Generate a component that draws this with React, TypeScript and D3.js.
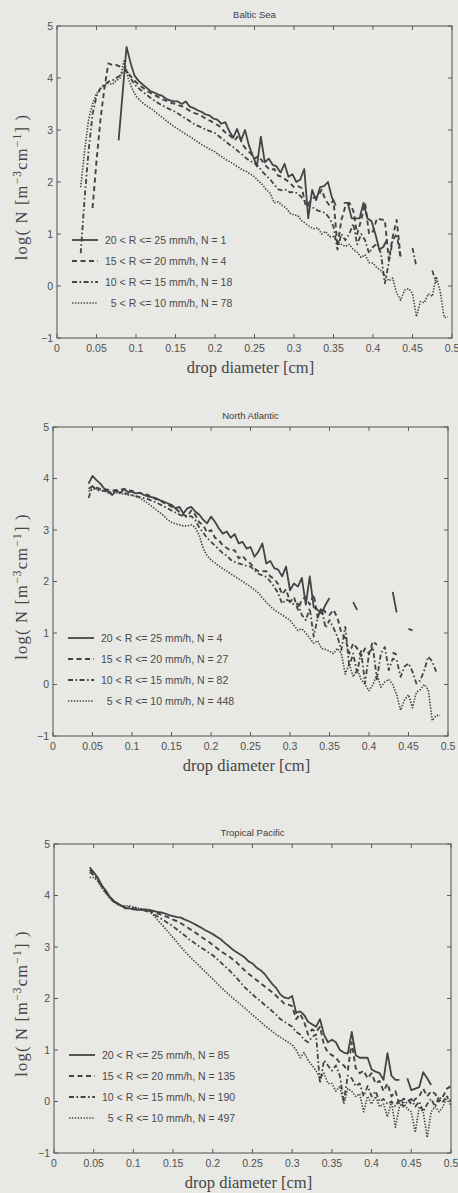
import React from 'react';
import * as d3 from 'd3';

// ---------- data ----------
const STEP = 0.005;

const xTicks = [0, 0.05, 0.1, 0.15, 0.2, 0.25, 0.3, 0.35, 0.4, 0.45, 0.5];
const xTickLabels = ['0', '0.05', '0.1', '0.15', '0.2', '0.25', '0.3', '0.35', '0.4', '0.45', '0.5'];
const yTicks = [-1, 0, 1, 2, 3, 4, 5];
const yTickLabels = ['\u22121', '0', '1', '2', '3', '4', '5'];

const rateClasses = ['20 < R <= 25 mm/h', '15 < R <= 20 mm/h', '10 < R <= 15 mm/h', '  5 < R <= 10 mm/h'];
const panelTitles = ['Baltic Sea', 'North Atlantic', 'Tropical Pacific'];
const balticCounts = [1, 4, 18, 78];
const atlanticCounts = [4, 27, 82, 448];
const pacificCounts = [85, 135, 190, 497];

// Baltic Sea
const balticR20Start = 0.078;
const balticR20 = [2.8, 3.7, 4.6, 4.3, 4.05, 3.95, 3.88, 3.82, 3.75, 3.72, 3.68, 3.66, 3.6, 3.57, 3.55, 3.55, 3.5, 3.55, 3.45, 3.42, 3.38, 3.35, 3.3, 3.28, 3.22, 3.2, 3.12, 3.15, 2.98, 2.85, 3.02, 2.8, 3.0, 2.7, 2.5, 2.3, 2.87, 2.38, 2.45, 2.33, 2.3, 2.18, 2.35, 2.1, 2.15, 2.0, 2.05, 2.25, 1.3, 1.85, 1.65, 1.9, 1.92, 2.0, 1.7, 1.55, null, 1.6, 1.6, 1.3, 1.3, 1.3, 1.6, 1.3, 1.25, 1.0, 0.7, 0.75, 0.9];
const balticR15Start = 0.045;
const balticR15 = [1.5, 2.4, 3.2, 3.8, 4.28, 4.25, 4.25, 4.22, 4.2, 4.1, 4.0, 3.92, 3.85, 3.8, 3.74, 3.7, 3.66, 3.62, 3.58, 3.55, 3.52, 3.5, 3.47, 3.45, 3.4, 3.35, 3.32, 3.3, 3.25, 3.2, 3.17, 3.12, 3.08, 3.0, 2.92, 2.88, 2.8, 2.9, 2.72, 2.62, 2.55, 2.45, 2.5, 2.4, 2.3, 2.23, 2.25, 2.12, 2.1, 2.04, 1.98, 1.9, 1.92, 1.88, 1.53, 1.62, 1.7, 1.72, 1.85, 1.65, 1.55, 1.65, 0.76, 1.27, 1.53, 1.6, 1.45, 1.0, 1.27, 1.6, 1.0, 1.05, 1.3, 1.28, 1.27, 0.5, 0.95, 1.27, 0.55];
const balticR10Start = 0.03;
const balticR10 = [0.63, 1.7, 2.6, 3.3, 3.65, 3.8, 3.88, 3.93, 3.95, 4.0, 4.05, 4.15, 4.1, 3.95, 3.85, 3.78, 3.72, 3.66, 3.6, 3.55, 3.5, 3.46, 3.42, 3.38, 3.35, 3.3, 3.25, 3.2, 3.15, 3.1, 3.07, 3.03, 3.0, 2.97, 2.94, 2.88, 2.82, 2.76, 2.7, 2.65, 2.58, 2.52, 2.45, 2.4, 2.36, 2.3, 2.2, 2.12, 2.05, 1.95, 1.86, 1.84, 1.85, 1.8, 1.81, 1.78, 1.7, 1.6, 1.53, 1.5, 1.45, 1.43, 1.4, 1.3, 1.14, 0.7, 1.0, 0.88, 1.0, 1.2, 0.8, 1.0, 0.88, 0.63, 0.75, 0.82, 0.63, 0.05, 0.45, 0.88, 1.0, 0.53, null, null, 0.73, 0.37, null, null, null, 0.3, 0.06];
const balticR5Start = 0.03;
const balticR5 = [1.9, 2.6, 3.2, 3.5, 3.7, 3.8, 3.85, 3.9, 3.88, 3.95, 4.0, 4.35, 4.0, 3.8, 3.65, 3.57, 3.5, 3.45, 3.4, 3.34, 3.28, 3.22, 3.16, 3.1, 3.05, 3.0, 2.95, 2.9, 2.86, 2.8, 2.75, 2.7, 2.66, 2.62, 2.58, 2.52, 2.47, 2.42, 2.38, 2.33, 2.28, 2.23, 2.2, 2.15, 2.1, 2.02, 1.95, 1.85, 1.78, 1.6, 1.62, 1.55, 1.5, 1.4, 1.37, 1.35, 1.25, 1.2, 1.14, 1.1, 1.12, 1.0, 1.05, 0.95, 0.95, 0.85, 0.8, 0.76, 0.8, 0.7, 0.65, 0.55, 0.6, 0.45, 0.44, 0.35, 0.3, 0.2, 0.1, 0.15, -0.14, -0.27, -0.08, -0.05, -0.14, -0.59, -0.3, -0.32, -0.15, -0.2, 0.18, -0.1, -0.6, -0.6];

// North Atlantic
const atlanticR20Start = 0.045;
const atlanticR20 = [3.9, 4.05, 3.97, 3.9, 3.8, 3.74, 3.68, 3.77, 3.72, 3.79, 3.74, 3.74, 3.71, 3.72, 3.68, 3.65, 3.64, 3.62, 3.58, 3.55, 3.52, 3.49, 3.42, 3.45, 3.32, 3.42, 3.45, 3.36, 3.3, 3.2, 3.13, 3.26, 3.16, 3.03, 2.93, 2.97, 2.85, 2.92, 2.74, 2.77, 2.64, 2.67, 2.48, 2.58, 2.74, 2.35, 2.4, 2.26, 2.23, 2.1, 2.29, 1.83, 1.96, 1.9, 2.07, 1.55, 2.1, 1.5, 1.45, 1.38, 1.55, 1.68, null, null, null, null, null, 1.6, 1.45, null, null, null, null, null, null, null, null, 1.8, 1.4, null, null, 1.08, 1.05];
const atlanticR15Start = 0.045;
const atlanticR15 = [3.8, 3.85, 3.82, 3.8, 3.8, 3.78, 3.76, 3.78, 3.78, 3.8, 3.77, 3.76, 3.72, 3.72, 3.7, 3.68, 3.65, 3.6, 3.58, 3.53, 3.5, 3.45, 3.42, 3.35, 3.3, 3.26, 3.38, 3.3, 3.15, 3.1, 2.95, 3.0, 2.85, 2.8, 2.7, 2.65, 2.6, 2.61, 2.45, 2.5, 2.4, 2.35, 2.25, 2.2, 2.2, 2.2, 2.1, 2.05, 1.95, 1.75, 1.85, 1.6, 1.7, 1.45, 1.65, 1.7, 1.55, 1.75, 1.3, 1.5, 1.4, 1.35, 1.45, 1.3, 1.0, 0.9, 0.6, 0.8, 0.7, 0.55, 0.7, 0.6, 0.84, 0.77, null, null, null, 0.62, 0.58];
const atlanticR10Start = 0.045;
const atlanticR10 = [3.62, 3.85, 3.78, 3.76, 3.76, 3.74, 3.75, 3.76, 3.74, 3.72, 3.7, 3.68, 3.66, 3.64, 3.62, 3.6, 3.57, 3.54, 3.5, 3.46, 3.42, 3.38, 3.34, 3.3, 3.27, 3.25, 3.27, 3.2, 3.05, 2.95, 2.85, 2.77, 2.7, 2.62, 2.55, 2.5, 2.42, 2.38, 2.35, 2.33, 2.3, 2.29, 2.22, 2.15, 2.12, 2.09, 2.0, 1.9, 1.77, 1.57, 1.65, 1.62, 1.55, 1.57, 1.35, 1.25, 1.48, 0.93, 1.3, 1.48, 1.1, 1.25, 1.1, 0.93, 0.67, 1.12, 0.35, 0.6, 0.22, 0.65, 0.02, 0.6, 0.73, 0.1, 0.6, 0.73, 0.28, 0.5, 0.48, 0.15, 0.35, 0.41, 0.25, 0.02, 0.08, 0.28, 0.54, 0.45, 0.25];
const atlanticR5Start = 0.045;
const atlanticR5 = [3.75, 3.8, 3.79, 3.78, 3.76, 3.72, 3.72, 3.72, 3.71, 3.7, 3.68, 3.67, 3.65, 3.62, 3.57, 3.52, 3.46, 3.4, 3.34, 3.28, 3.2, 3.15, 3.12, 3.1, 3.08, 3.08, 3.1, 3.05, 2.9, 2.65, 2.5, 2.42, 2.36, 2.3, 2.25, 2.2, 2.15, 2.1, 2.05, 2.0, 1.95, 1.9, 1.84, 1.78, 1.68, 1.6, 1.52, 1.45, 1.4, 1.35, 1.3, 1.25, 1.15, 1.05, 1.08, 1.0, 0.9, 0.8, 0.85, 0.7, 0.68, 0.65, 0.6, 0.7, 0.6, 0.2, 0.4, 0.15, 0.3, 0.1, 0.0, -0.12, 0.0, 0.2, -0.05, 0.05, 0.1, 0.0, -0.2, -0.5, -0.3, -0.2, -0.45, -0.15, -0.1, 0.0, -0.1, -0.7, -0.6, -0.6];

// Tropical Pacific
const pacificR20Start = 0.045;
const pacificR20 = [4.55, 4.45, 4.35, 4.2, 4.1, 3.98, 3.9, 3.85, 3.8, 3.75, 3.75, 3.73, 3.72, 3.72, 3.73, 3.72, 3.7, 3.68, 3.67, 3.65, 3.62, 3.6, 3.58, 3.57, 3.53, 3.5, 3.46, 3.42, 3.38, 3.33, 3.29, 3.25, 3.2, 3.15, 3.08, 3.02, 2.95, 2.9, 2.85, 2.8, 2.72, 2.68, 2.6, 2.55, 2.48, 2.38, 2.28, 2.2, 2.08, 2.02, 2.0, 2.05, 1.72, 1.75, 1.68, 1.55, 1.5, 1.45, 1.6, 1.3, 1.15, 1.2, 1.15, 1.0, 0.95, 0.93, 1.35, 0.9, 0.85, 0.85, 0.85, 0.62, 0.58, 0.55, 0.42, 0.94, 0.5, 0.42, 0.42, null, 0.45, 0.22, 0.25, 0.28, 0.57, 0.45, 0.32];
const pacificR15Start = 0.045;
const pacificR15 = [4.5, 4.42, 4.33, 4.2, 4.08, 3.97, 3.9, 3.84, 3.8, 3.76, 3.75, 3.74, 3.73, 3.73, 3.72, 3.7, 3.68, 3.66, 3.63, 3.6, 3.57, 3.53, 3.5, 3.46, 3.41, 3.36, 3.31, 3.26, 3.2, 3.15, 3.1, 3.04, 2.98, 2.92, 2.87, 2.82, 2.76, 2.7, 2.62, 2.55, 2.48, 2.42, 2.36, 2.3, 2.24, 2.18, 2.12, 2.05, 1.98, 1.9, 1.88, 1.85, 1.6, 1.7, 1.55, 1.3, 1.4, 1.35, 1.45, 1.1, 0.95, 0.9, 0.85, 0.75, 0.7, 0.6, 1.15, 0.65, 0.55, 0.6, 0.45, 0.55, 0.35, 0.4, 0.2, 0.35, 0.1, 0.2, -0.05, 0.05, 0.05, -0.05, 0.05, 0.1, 0.25, 0.1, 0.2, 0.15, 0.0, 0.1, 0.25, 0.3];
const pacificR10Start = 0.045;
const pacificR10 = [4.45, 4.4, 4.3, 4.18, 4.06, 3.96, 3.88, 3.83, 3.8, 3.78, 3.78, 3.76, 3.75, 3.73, 3.7, 3.68, 3.64, 3.6, 3.55, 3.5, 3.45, 3.4, 3.34, 3.28, 3.22, 3.15, 3.1, 3.04, 2.99, 2.94, 2.89, 2.84, 2.77, 2.7, 2.63, 2.56, 2.48, 2.4, 2.31, 2.22, 2.15, 2.08, 2.01, 1.95, 1.88, 1.82, 1.75, 1.68, 1.6, 1.55, 1.5, 1.45, 1.35, 1.3, 1.2, 1.15, 1.25, 1.3, 0.35, 0.8, 0.7, 0.6, 0.7, 0.5, 0.0, 0.5, 0.45, 0.3, 0.35, 0.1, 0.3, 0.1, 0.2, 0.0, 0.05, -0.05, 0.0, -0.1, 0.05, -0.1, 0.0, 0.05, -0.1, 0.0, -0.2, -0.05, 0.05, -0.1, 0.1, 0.0, 0.1, 0.0];
const pacificR5Start = 0.045;
const pacificR5 = [4.35, 4.35, 4.28, 4.15, 4.05, 3.95, 3.88, 3.83, 3.8, 3.8, 3.8, 3.78, 3.76, 3.74, 3.72, 3.7, 3.62, 3.53, 3.45, 3.36, 3.27, 3.18, 3.09, 3.0, 2.91, 2.83, 2.75, 2.68, 2.6, 2.53, 2.45, 2.38, 2.3, 2.22, 2.15, 2.08, 2.01, 1.95, 1.88, 1.82, 1.75, 1.68, 1.62, 1.55, 1.48, 1.42, 1.36, 1.3, 1.25, 1.2, 1.15, 1.1, 1.0, 0.85, 0.95, 0.8, 0.7, 0.6, 0.45, 0.55, 0.35, 0.35, 0.2, 0.3, -0.05, 0.25, 0.2, 0.1, 0.15, -0.2, 0.1, -0.05, 0.1, -0.1, -0.05, -0.3, 0.0, -0.5, -0.1, 0.0, -0.15, -0.2, -0.6, -0.1, -0.2, -0.7, -0.2, -0.1, -0.2, -0.1, 0.1, -0.1];

// ---------- layout / style ----------
const W = 458;
const H = 1193;
const BG = '#e8e8e5';
const INK = '#444444';
const AXIS = '#5c5c5c';
const SANS = '"Liberation Sans", Arial, Helvetica, sans-serif';
const SERIF = '"Liberation Serif", "Times New Roman", serif';

const seriesStyles = [
  { dash: null as string | null, width: 1.8 },
  { dash: '5,3.5', width: 1.9 },
  { dash: '5,2.5,1.6,2.5', width: 1.8 },
  { dash: '1.4,1.5', width: 1.6 },
];

type Series = { start: number; values: (number | null)[] };

const panels = [
  {
    title: panelTitles[0], counts: balticCounts,
    series: [
      { start: balticR20Start, values: balticR20 },
      { start: balticR15Start, values: balticR15 },
      { start: balticR10Start, values: balticR10 },
      { start: balticR5Start, values: balticR5 },
    ] as Series[],
    left: 57, right: 452, top: 26, bottom: 338,
  },
  {
    title: panelTitles[1], counts: atlanticCounts,
    series: [
      { start: atlanticR20Start, values: atlanticR20 },
      { start: atlanticR15Start, values: atlanticR15 },
      { start: atlanticR10Start, values: atlanticR10 },
      { start: atlanticR5Start, values: atlanticR5 },
    ] as Series[],
    left: 53, right: 448, top: 427, bottom: 736,
  },
  {
    title: panelTitles[2], counts: pacificCounts,
    series: [
      { start: pacificR20Start, values: pacificR20 },
      { start: pacificR15Start, values: pacificR15 },
      { start: pacificR10Start, values: pacificR10 },
      { start: pacificR5Start, values: pacificR5 },
    ] as Series[],
    left: 54, right: 451, top: 844, bottom: 1153,
  },
];

function Panel({ p }: { p: typeof panels[number] }) {
  const x = d3.scaleLinear().domain([0, 0.5]).range([p.left, p.right]);
  const y = d3.scaleLinear().domain([-1, 5]).range([p.bottom, p.top]);
  const line = d3
    .line<[number, number | null]>()
    .defined((d) => d[1] !== null)
    .x((d) => x(d[0]))
    .y((d) => y(d[1] as number));
  const clipId = 'clip-' + p.title.replace(/\s/g, '');
  const tickLen = 4;
  const cy = (p.top + p.bottom) / 2 + 5;

  return (
    <g>
      <defs>
        <clipPath id={clipId}>
          <rect x={p.left} y={p.top} width={p.right - p.left} height={p.bottom - p.top} />
        </clipPath>
      </defs>
      <text x={(p.left + p.right) / 2} y={p.top - 8.5} textAnchor="middle" fontFamily={SANS} fontSize={9.5} fill="#3e3e3e">
        {p.title}
      </text>
      <g clipPath={`url(#${clipId})`}>
        {p.series.map((s, i) => {
          const pts: [number, number | null][] = s.values.map((v, k) => [s.start + k * STEP, v]);
          return (
            <path
              key={i}
              d={line(pts) || ''}
              fill="none"
              stroke={INK}
              strokeWidth={seriesStyles[i].width}
              strokeDasharray={seriesStyles[i].dash || undefined}
              strokeLinejoin="round"
            />
          );
        })}
      </g>
      <rect x={p.left} y={p.top} width={p.right - p.left} height={p.bottom - p.top} fill="none" stroke={AXIS} strokeWidth={1.1} />
      {xTicks.map((t, i) => (
        <g key={'x' + i}>
          <line x1={x(t)} x2={x(t)} y1={p.bottom} y2={p.bottom - tickLen} stroke={AXIS} strokeWidth={1} />
          <line x1={x(t)} x2={x(t)} y1={p.top} y2={p.top + tickLen} stroke={AXIS} strokeWidth={1} />
          <text x={x(t)} y={p.bottom + 14} textAnchor="middle" fontFamily={SANS} fontSize={10.5} fill="#505050">
            {xTickLabels[i]}
          </text>
        </g>
      ))}
      {yTicks.map((t, i) => (
        <g key={'y' + i}>
          <line x1={p.left} x2={p.left + tickLen} y1={y(t)} y2={y(t)} stroke={AXIS} strokeWidth={1} />
          <line x1={p.right} x2={p.right - tickLen} y1={y(t)} y2={y(t)} stroke={AXIS} strokeWidth={1} />
          <text x={p.left - 4} y={y(t) + 3.5} textAnchor="end" fontFamily={SANS} fontSize={10.5} fill="#505050">
            {yTickLabels[i]}
          </text>
        </g>
      ))}
      <text x={(p.left + p.right) / 2 - 4} y={p.bottom + 34.5} textAnchor="middle" fontFamily={SERIF} fontSize={16.5} fill="#454545">
        drop diameter [cm]
      </text>
      <text
        transform={`translate(27, ${cy}) rotate(-90)`}
        textAnchor="middle"
        fontFamily={SERIF}
        fontSize={16.5}
        fill="#454545"
        letterSpacing={1.2}
      >
        log( N [m
        <tspan dy={-6} fontSize={11.5}>{'\u22123'}</tspan>
        <tspan dy={6}>cm</tspan>
        <tspan dy={-6} fontSize={11.5}>{'\u22121'}</tspan>
        <tspan dy={6}>] )</tspan>
      </text>
      {rateClasses.map((r, i) => {
        const ly = p.bottom - 98 + i * 21;
        return (
          <g key={'l' + i}>
            <line
              x1={p.left + 15}
              x2={p.left + 41}
              y1={ly}
              y2={ly}
              stroke={INK}
              strokeWidth={seriesStyles[i].width}
              strokeDasharray={seriesStyles[i].dash || undefined}
            />
            <text x={p.left + 48} y={ly + 3.8} fontFamily={SANS} fontSize={10.5} fill="#4a4a4a" style={{ whiteSpace: 'pre' }}>
              {`${r}, N = ${p.counts[i]}`}
            </text>
          </g>
        );
      })}
    </g>
  );
}

export default function App() {
  return (
    <svg
      width={W}
      height={H}
      viewBox={`0 0 ${W} ${H}`}
      style={{ position: 'absolute', left: 0, top: 0, display: 'block' }}
    >
      <rect x={0} y={0} width={W} height={H} fill={BG} />
      {panels.map((p, i) => (
        <Panel key={i} p={p} />
      ))}
    </svg>
  );
}
